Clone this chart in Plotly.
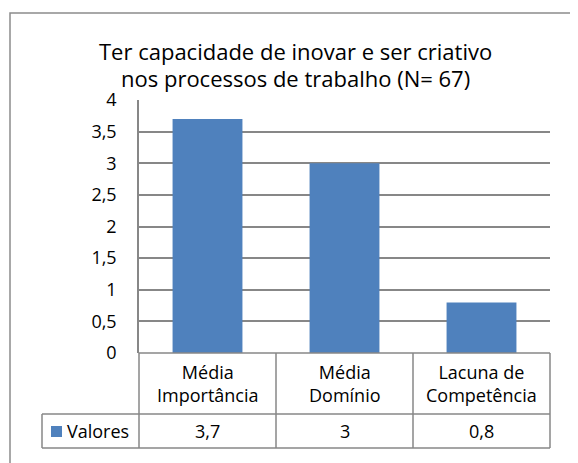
import plotly.graph_objects as go

# ---- data ----
categories = ["Média Importância", "Média Domínio", "Lacuna de Competência"]
category_labels = ["Média<br>Importância", "Média<br>Domínio", "Lacuna de<br>Competência"]
values = [3.7, 3.0, 0.8]
value_labels = ["3,7", "3", "0,8"]
series_name = "Valores"
title_lines = ["Ter capacidade de inovar e ser criativo", "nos processos de trabalho (N= 67)"]
y_ticks = [0, 0.5, 1, 1.5, 2, 2.5, 3, 3.5, 4]

# ---- layout geometry (reference pixels; page has an 8px body margin) ----
OFF = 8
WIDTH, HEIGHT = 578 - OFF, 463 - OFF
L, R, T, B = 139, 550, 100, 353
PW, PH = R - L, B - T
FONT = "Open Sans, sans-serif"
GRID = "#878787"
BAR = "#4F81BD"


def px(x):
    return (x - L) / PW


def py(y):
    return (B - y) / PH


fig = go.Figure()
fig.add_trace(go.Bar(x=categories, y=values, marker=dict(color=BAR, line=dict(width=0)),
                     name=series_name, showlegend=False))

fig.update_layout(
    width=WIDTH, height=HEIGHT,
    margin=dict(l=L - OFF, r=WIDTH - (R - OFF), t=T - OFF, b=HEIGHT - (B - OFF), pad=0),
    paper_bgcolor="white", plot_bgcolor="white",
    separators=",.",
    bargap=0.49,
    font=dict(family=FONT, size=18, color="#000000"),
)
fig.update_xaxes(showticklabels=False, showgrid=False, zeroline=False, showline=False, ticks="")
fig.update_yaxes(range=[0, 4], tickvals=y_ticks, showgrid=True, gridcolor=GRID, gridwidth=1.5,
                 zeroline=False, showline=True, linecolor=GRID, linewidth=1.5,
                 ticks="", ticklabelstandoff=17, tickfont=dict(size=18, family=FONT))

shapes = []
line = dict(color=GRID, width=1.5)
# outer chart border
shapes.append(dict(type="rect", xref="paper", yref="paper", x0=px(10), x1=px(590), y0=py(13), y1=py(480),
                   line=dict(color="#8c8c8c", width=1.5), layer="below"))
# data table lines
cols = [L, L + PW / 3, L + 2 * PW / 3, R]
row1 = 414
row2 = 448
leg_left = 42
for c in cols:
    shapes.append(dict(type="line", xref="paper", yref="paper", x0=px(c), x1=px(c), y0=py(B), y1=py(row2), line=line))
shapes.append(dict(type="line", xref="paper", yref="paper", x0=px(L), x1=px(R), y0=py(B), y1=py(B), line=line))
shapes.append(dict(type="line", xref="paper", yref="paper", x0=px(leg_left), x1=px(R), y0=py(row1), y1=py(row1), line=line))
shapes.append(dict(type="line", xref="paper", yref="paper", x0=px(leg_left), x1=px(R), y0=py(row2), y1=py(row2), line=line))
shapes.append(dict(type="line", xref="paper", yref="paper", x0=px(leg_left), x1=px(leg_left), y0=py(row1), y1=py(row2), line=line))
# legend key square
shapes.append(dict(type="rect", xref="paper", yref="paper", x0=px(51), x1=px(62), y0=py(437), y1=py(426),
                   fillcolor=BAR, line=dict(width=0)))
fig.update_layout(shapes=shapes)

ann = []
for cat, lab, vl in zip(categories, category_labels, value_labels):
    ann.append(dict(x=cat, xref="x", y=py((B + row1) / 2), yref="paper", text=lab, showarrow=False,
                    font=dict(size=18, family=FONT), align="center", yanchor="middle"))
    ann.append(dict(x=cat, xref="x", y=py((row1 + row2) / 2), yref="paper", text=vl, showarrow=False,
                    font=dict(size=18, family=FONT), yanchor="middle"))
ann.append(dict(x=px(65), xref="paper", y=py((row1 + row2) / 2), yref="paper", text=series_name,
                showarrow=False, xanchor="left", yanchor="middle", font=dict(size=18, family=FONT)))
ann.append(dict(x=px(295), xref="paper", y=py(51), yref="paper", text=title_lines[0], showarrow=False,
                xanchor="center", yanchor="middle", font=dict(size=22, family=FONT)))
ann.append(dict(x=px(295), xref="paper", y=py(78), yref="paper", text=title_lines[1], showarrow=False,
                xanchor="center", yanchor="middle", font=dict(size=22, family=FONT)))
fig.update_layout(annotations=ann)

fig.write_html("out.html")
